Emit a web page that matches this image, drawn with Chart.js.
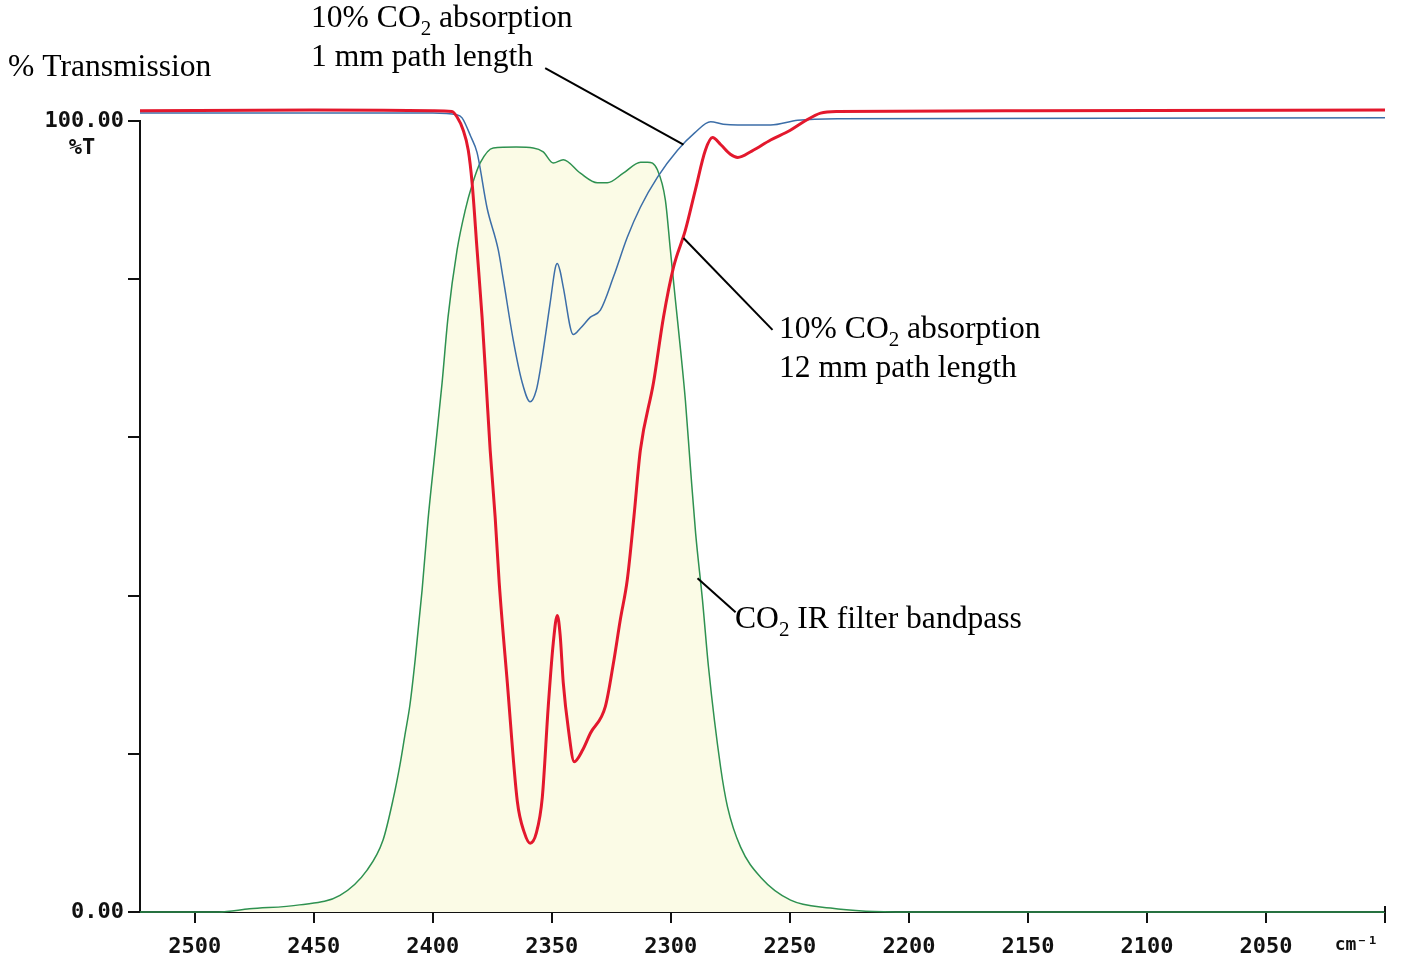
<!DOCTYPE html>
<html>
<head>
<meta charset="utf-8">
<title>CO2 absorption vs IR filter bandpass</title>
<script src="https://cdn.jsdelivr.net/npm/chart.js@4.4.1/dist/chart.umd.min.js"></script>
<style>
  html, body { margin: 0; padding: 0; background: #fff; }
  #wrap { width: 1401px; height: 961px; position: relative; }
</style>
</head>
<body>
<div id="wrap"><canvas id="irChart"></canvas></div>
<script>
// wavenumbers (cm-1) and % transmission
const redWave = [2523, 2450, 2400, 2392, 2389.8, 2387.3, 2385.1, 2383.5, 2381.4, 2379.3, 2377.6, 2375.9, 2373.8, 2372.1,
  2368.7, 2364.5, 2361.5, 2359.1, 2356.5, 2354.0, 2351.5, 2349.4, 2347.7, 2346.5, 2345.2, 2343, 2340.6, 2337,
  2333.8, 2327.5, 2324.1, 2321.2, 2318.3, 2315.5, 2312.8, 2307.3, 2303.1, 2298.9, 2293.9, 2289.7, 2285.5, 2282.5,
  2279, 2275, 2271.9, 2266, 2258.1, 2250, 2244.2, 2237.1, 2230, 2150, 2000];
const redT = [101.3, 101.4, 101.3, 101.2, 100.5, 98.9, 96.3, 92.2, 83.7, 75.2, 66.9, 58.4, 49.9, 41.6,
  29, 14, 10, 8.7, 10, 14.5, 26, 34, 37.5, 35, 29, 23, 19, 20.5,
  22.6, 26, 31.5, 37, 42, 50, 58.4, 66.9, 75.2, 81.5, 86.2, 91.3, 96.3, 97.9,
  97, 95.8, 95.4, 96.2, 97.6, 98.8, 99.9, 101, 101.2, 101.3, 101.4];

const blueWave = [2523, 2400, 2390, 2387.7, 2384, 2381.4, 2377.2, 2372.5, 2370.4, 2366.2, 2362.5, 2359.1, 2356.5,
  2354.9, 2350.7, 2348.5, 2347.7, 2346.5, 2345.2, 2341.0, 2338, 2333.8, 2329.6, 2324.1, 2318.3, 2312.8, 2305.6,
  2297.2, 2290, 2283.3, 2278, 2271.9, 2258.1, 2246.7, 2230, 2000];
const blueT = [101.0, 101.0, 100.8, 100.4, 98, 96, 89, 83.7, 80, 72.3, 67, 64.5, 66,
  68.5, 77, 81.5, 82, 81, 79, 73, 73.8, 75.2, 76.1, 80.3, 85.3, 89.1, 92.9,
  96.3, 98.5, 99.9, 99.6, 99.5, 99.5, 100.1, 100.3, 100.4];

const greenWave = [2523, 2490, 2477, 2456, 2439, 2427.6, 2420.9, 2416.7, 2413.8, 2411.7, 2409.6, 2407.4, 2404.5,
  2402.0, 2399.0, 2396.1, 2393.6, 2389.8, 2386.4, 2383.5, 2380.1, 2374.6, 2365, 2357.8, 2353.6, 2349.4, 2345.2,
  2338.0, 2330.9, 2326.7, 2320, 2312.7, 2309.8, 2305.6, 2302.3, 2300.2, 2298.1, 2295.9, 2293.9, 2291.8, 2289.6,
  2286.7, 2284.2, 2279.1, 2276.2, 2270.7, 2262.3, 2249.7, 2232.9, 2218.1, 2200, 2000];
const greenT = [0, 0, 0.4, 0.9, 2.1, 5.3, 9.1, 14.2, 18.6, 22.4, 26.2, 31.9, 40.7,
  49.6, 58.4, 66.9, 75.2, 83.7, 88.7, 91.9, 94.7, 96.6, 96.7, 96.6, 96.1, 94.7, 95.1,
  93.4, 92.2, 92.2, 93.4, 94.8, 94.8, 93.8, 90, 83.7, 77.4, 71, 64.7, 56.3, 47.9,
  39.4, 31, 18.3, 13.3, 8.2, 4.4, 1.5, 0.5, 0.1, 0, 0];

const xTicks = [2000, 2050, 2100, 2150, 2200, 2250, 2300, 2350, 2400, 2450, 2500];
const yTicks = [0, 20, 40, 60, 80, 100];

function pts(xs, ys) {
  return xs.map((x, i) => ({ x: x, y: ys[i] }));
}

const serif = '"Liberation Serif", "Times New Roman", serif';
const monoFamily = '"DejaVu Sans Mono", monospace';

// text pieces: [string, isSubscript]
function drawRich(ctx, parts, x, y) {
  let cx = x;
  ctx.textBaseline = 'middle';
  ctx.textAlign = 'left';
  parts.forEach(p => {
    if (p[1]) {
      ctx.font = '21px ' + serif;
      ctx.fillText(p[0], cx, y + 10);
    } else {
      ctx.font = '31.6px ' + serif;
      ctx.fillText(p[0], cx, y);
    }
    cx += ctx.measureText(p[0]).width;
  });
}

const annotations = {
  id: 'annotations',
  afterDraw(chart) {
    const ctx = chart.ctx;
    const xs = chart.scales.x, ys = chart.scales.y;
    const px = v => xs.getPixelForValue(v);
    const py = v => ys.getPixelForValue(v);
    ctx.save();
    ctx.fillStyle = '#111';

    // axis extras
    ctx.font = 'bold 22px ' + monoFamily;
    ctx.textAlign = 'center';
    ctx.textBaseline = 'middle';
    ctx.fillText('%T', 82, py(100) + 27);
    ctx.font = 'bold 18px ' + monoFamily;
    ctx.fillText('cm\u207B\u00B9', px(2012), chart.chartArea.bottom + 33);
    ctx.strokeStyle = '#111';
    ctx.lineWidth = 2;
    ctx.beginPath();
    ctx.moveTo(px(2000), chart.chartArea.bottom - 6);
    ctx.lineTo(px(2000), chart.chartArea.bottom);
    ctx.stroke();

    // labels
    ctx.fillStyle = '#000';
    drawRich(ctx, [['% Transmission', false]], 8, 68);
    drawRich(ctx, [['10% CO', false], ['2', true], [' absorption', false]], 311, 19);
    drawRich(ctx, [['1 mm path length', false]], 311, 58);
    drawRich(ctx, [['10% CO', false], ['2', true], [' absorption', false]], 779, 330);
    drawRich(ctx, [['12 mm path length', false]], 779, 369);
    drawRich(ctx, [['CO', false], ['2', true], [' IR filter bandpass', false]], 735, 620);

    // leader lines
    ctx.strokeStyle = '#000';
    ctx.lineWidth = 2;
    const leaders = [
      [[2352.8, 106.7], [2294.7, 97]],
      [[2294.7, 85.2], [2257.3, 73.6]],
      [[2288.8, 42.2], [2272.8, 37.9]]
    ];
    leaders.forEach(l => {
      ctx.beginPath();
      ctx.moveTo(px(l[0][0]), py(l[0][1]));
      ctx.lineTo(px(l[1][0]), py(l[1][1]));
      ctx.stroke();
    });
    ctx.restore();
  }
};

const lineDefaults = {
  pointRadius: 0,
  cubicInterpolationMode: 'monotone',
  clip: false
};

new Chart(document.getElementById('irChart'), {
  type: 'line',
  data: {
    datasets: [
      Object.assign({
        label: '12 mm',
        data: pts(redWave, redT),
        borderColor: '#e3182d',
        borderWidth: 3,
        fill: false
      }, lineDefaults),
      Object.assign({
        label: '1 mm',
        data: pts(blueWave, blueT),
        borderColor: '#3c6ea8',
        borderWidth: 1.5,
        fill: false
      }, lineDefaults),
      Object.assign({
        label: 'filter',
        data: pts(greenWave, greenT),
        borderColor: '#2e9150',
        borderWidth: 1.5,
        backgroundColor: '#fbfbe6',
        fill: 'origin'
      }, lineDefaults)
    ]
  },
  options: {
    responsive: true,
    maintainAspectRatio: false,
    animation: false,
    layout: { padding: { left: 0, right: 16, top: 121, bottom: 0 } },
    plugins: {
      legend: { display: false },
      tooltip: { enabled: false }
    },
    scales: {
      x: {
        type: 'linear',
        reverse: true,
        min: 2000,
        max: 2523,
        afterBuildTicks: scale => { scale.ticks = xTicks.map(v => ({ value: v })); },
        afterFit: scale => { scale.height = 49; },
        border: { color: '#111', width: 2 },
        grid: { drawOnChartArea: false, color: '#111', lineWidth: 2, tickLength: 11 },
        ticks: {
          color: '#111',
          font: { family: monoFamily, size: 22, weight: 'bold' },
          padding: 11,
          maxRotation: 0,
          autoSkip: false,
          callback: v => (v === 2000 ? '' : String(v))
        }
      },
      y: {
        min: 0,
        max: 100,
        afterBuildTicks: scale => { scale.ticks = yTicks.map(v => ({ value: v })); },
        afterFit: scale => { scale.width = 140; },
        border: { color: '#111', width: 2 },
        grid: { drawOnChartArea: false, color: '#111', lineWidth: 2, tickLength: 12 },
        ticks: {
          color: '#111',
          font: { family: monoFamily, size: 22, weight: 'bold' },
          padding: 4,
          callback: v => (v === 100 ? '100.00' : v === 0 ? '0.00' : '')
        }
      }
    }
  },
  plugins: [annotations]
});
</script>
</body>
</html>
